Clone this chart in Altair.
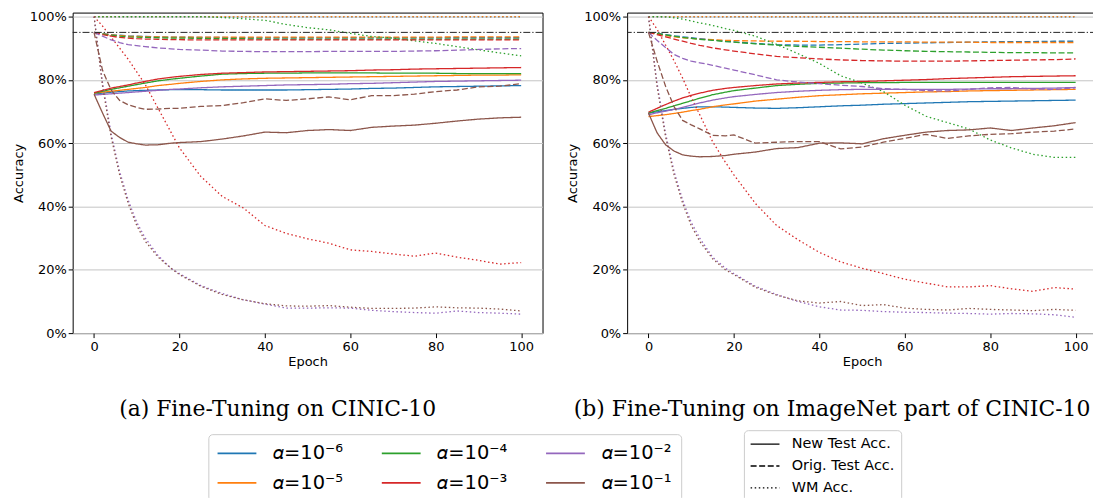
import altair as alt
import pandas as pd

# ---------------- data (accuracy in %) ----------------
EPOCHS = [0, 2, 4, 6, 8, 10, 12, 15, 18, 20, 25, 30, 35, 40, 45, 50, 55, 60, 65, 70, 75, 80, 85, 90, 95, 100]

ALPHA_LABELS = ["𝛼=10⁻⁶", "𝛼=10⁻⁵", "𝛼=10⁻⁴", "𝛼=10⁻³", "𝛼=10⁻²", "𝛼=10⁻¹"]
ALPHA_COLORS = ["#1f77b4", "#ff7f0e", "#2ca02c", "#d62728", "#9467bd", "#8c564b"]
METRICS = ["New Test Acc.", "Orig. Test Acc.", "WM Acc."]
METRIC_DASHES = [[1, 0], [6, 2.6], [1.5, 2.6]]
ORIG_ACC = 95.0
X_TICKS = [0, 20, 40, 60, 80, 100]
Y_TICKS = [0, 0.2, 0.4, 0.6, 0.8, 1.0]
CAPTIONS = ["(a) Fine-Tuning on CINIC-10", "(b) Fine-Tuning on ImageNet part of CINIC-10"]

# Panel (a): Fine-Tuning on CINIC-10
A_NEW_1E6 = [75.5, 75.8, 76.1, 76.3, 76.5, 76.6, 76.7, 76.8, 76.9, 76.9, 76.9, 76.8, 76.8, 76.8, 76.8, 76.9, 77.0, 77.1, 77.3, 77.4, 77.6, 77.8, 77.9, 78.0, 78.1, 78.2]
A_NEW_1E5 = [75.8, 76.1, 76.4, 76.7, 77.0, 77.3, 77.6, 78.2, 78.6, 78.9, 79.5, 80.0, 80.3, 80.5, 80.6, 80.7, 80.8, 80.9, 81.0, 81.1, 81.2, 81.3, 81.4, 81.5, 81.5, 81.6]
A_NEW_1E4 = [75.8, 76.4, 77.0, 77.5, 78.0, 78.5, 79.0, 79.7, 80.2, 80.5, 81.2, 81.8, 82.0, 82.1, 82.1, 82.2, 82.2, 82.2, 82.2, 82.1, 82.1, 82.1, 82.0, 82.0, 82.0, 82.0]
A_NEW_1E3 = [76.0, 76.7, 77.4, 77.9, 78.4, 79.0, 79.5, 80.3, 80.8, 81.1, 81.7, 82.1, 82.3, 82.5, 82.6, 82.7, 82.8, 82.9, 83.1, 83.2, 83.4, 83.5, 83.6, 83.7, 83.8, 83.9]
A_NEW_1E2 = [75.2, 75.4, 75.6, 75.8, 76.0, 76.2, 76.4, 76.7, 77.0, 77.1, 77.5, 77.8, 78.0, 78.2, 78.4, 78.5, 78.6, 78.8, 78.9, 79.1, 79.3, 79.5, 79.6, 79.7, 79.8, 79.9]
A_NEW_1E1 = [75.5, 69.5, 63.8, 61.8, 60.3, 59.8, 59.4, 59.5, 60.0, 60.2, 60.5, 61.3, 62.3, 63.5, 63.3, 64.0, 64.3, 64.0, 65.0, 65.4, 65.7, 66.3, 67.0, 67.6, 68.0, 68.2]

A_ORIG_1E6 = [95.0, 94.6, 94.3, 94.1, 93.9, 93.8, 93.7, 93.6, 93.5, 93.5, 93.4, 93.4, 93.3, 93.3, 93.3, 93.3, 93.3, 93.3, 93.3, 93.3, 93.3, 93.3, 93.3, 93.3, 93.3, 93.3]
A_ORIG_1E5 = [95.0, 94.5, 94.2, 94.0, 93.8, 93.7, 93.6, 93.6, 93.5, 93.5, 93.5, 93.5, 93.5, 93.5, 93.5, 93.5, 93.5, 93.5, 93.5, 93.5, 93.5, 93.5, 93.6, 93.6, 93.6, 93.6]
A_ORIG_1E4 = [95.0, 94.5, 94.1, 93.8, 93.6, 93.5, 93.4, 93.3, 93.2, 93.2, 93.1, 93.0, 93.0, 92.9, 92.9, 92.9, 92.9, 92.9, 92.9, 92.9, 92.9, 92.9, 92.9, 92.9, 92.9, 92.9]
A_ORIG_1E3 = [95.0, 94.3, 93.8, 93.4, 93.2, 93.0, 92.9, 92.8, 92.7, 92.7, 92.6, 92.6, 92.6, 92.6, 92.6, 92.6, 92.6, 92.6, 92.6, 92.6, 92.6, 92.6, 92.6, 92.6, 92.6, 92.6]
A_ORIG_1E2 = [95.0, 93.8, 92.6, 91.8, 91.1, 90.8, 90.5, 90.1, 89.8, 89.6, 89.4, 89.1, 89.0, 88.9, 88.9, 88.9, 89.0, 89.0, 89.0, 89.0, 89.1, 89.2, 89.4, 89.6, 89.8, 89.9]
A_ORIG_1E1 = [95.0, 83.0, 76.8, 73.5, 72.1, 71.3, 70.7, 70.8, 71.0, 71.0, 71.6, 71.9, 72.8, 74.0, 73.5, 74.0, 74.6, 73.7, 75.0, 75.0, 75.5, 76.3, 76.8, 77.8, 78.0, 78.8]

A_WM_1E6 = [99.9, 99.9, 99.9, 99.9, 99.9, 99.9, 99.9, 99.9, 99.9, 99.9, 99.9, 99.9, 99.9, 99.9, 99.9, 99.9, 99.9, 99.9, 99.9, 99.9, 99.9, 99.9, 99.9, 99.9, 99.9, 99.9]
A_WM_1E5 = [100.0, 100.0, 100.0, 100.0, 100.0, 100.0, 100.0, 100.0, 100.0, 100.0, 100.0, 100.0, 100.0, 100.0, 100.0, 100.0, 100.0, 100.0, 100.0, 100.0, 100.0, 100.0, 100.0, 100.0, 100.0, 100.0]
A_WM_1E4 = [100.0, 100.0, 100.0, 100.0, 100.0, 100.0, 100.0, 100.0, 100.0, 100.0, 100.0, 99.7, 99.3, 98.8, 97.5, 96.5, 95.8, 94.7, 93.7, 93.2, 92.3, 91.5, 90.5, 89.5, 88.5, 87.6]
A_WM_1E3 = [100.0, 97.0, 93.5, 90.0, 86.5, 82.5, 78.5, 71.0, 63.5, 58.5, 49.5, 43.2, 39.5, 34.0, 31.5, 29.8, 28.4, 26.3, 25.8, 25.0, 24.3, 25.3, 24.0, 23.0, 21.8, 22.3]
A_WM_1E2 = [100.0, 79.0, 63.0, 51.0, 42.0, 35.0, 30.0, 24.5, 20.5, 18.8, 15.0, 12.5, 10.5, 9.2, 7.9, 7.9, 8.0, 7.9, 7.2, 6.8, 6.5, 6.3, 7.0, 6.5, 6.3, 6.0]
A_WM_1E1 = [100.0, 78.0, 62.0, 50.0, 41.0, 34.0, 29.0, 24.0, 20.5, 18.5, 14.8, 12.2, 10.5, 9.3, 8.6, 8.5, 8.7, 8.2, 7.8, 7.8, 7.9, 8.3, 8.0, 7.9, 7.6, 7.0]

# Panel (b): Fine-Tuning on ImageNet part of CINIC-10
B_NEW_1E6 = [69.5, 69.9, 70.3, 70.7, 71.0, 71.3, 71.5, 71.5, 71.4, 71.3, 71.1, 71.0, 71.2, 71.5, 71.8, 72.0, 72.3, 72.5, 72.7, 72.9, 73.1, 73.2, 73.3, 73.4, 73.5, 73.6]
B_NEW_1E5 = [68.4, 68.7, 69.0, 69.4, 69.8, 70.3, 70.7, 71.5, 72.1, 72.4, 73.3, 73.9, 74.5, 75.0, 75.3, 75.6, 75.8, 76.0, 76.2, 76.3, 76.5, 76.6, 76.7, 76.8, 76.9, 77.0]
B_NEW_1E4 = [69.5, 70.3, 71.0, 71.8, 72.6, 73.4, 74.2, 75.3, 76.1, 76.6, 77.4, 78.2, 78.6, 78.9, 79.0, 79.1, 79.1, 79.2, 79.2, 79.2, 79.2, 79.2, 79.2, 79.2, 79.2, 79.2]
B_NEW_1E3 = [69.8, 71.0, 72.2, 73.3, 74.3, 75.1, 75.8, 76.7, 77.3, 77.6, 78.2, 78.7, 79.0, 79.2, 79.4, 79.5, 79.7, 79.9, 80.1, 80.4, 80.6, 80.8, 81.0, 81.1, 81.2, 81.3]
B_NEW_1E2 = [69.0, 69.6, 70.1, 70.7, 71.3, 72.0, 72.7, 73.6, 74.3, 74.7, 75.4, 76.0, 76.4, 76.7, 76.9, 77.0, 77.0, 77.0, 77.0, 77.0, 77.1, 77.2, 77.2, 77.3, 77.4, 77.6]
B_NEW_1E1 = [69.5, 63.3, 59.5, 57.5, 56.3, 55.9, 55.7, 55.8, 56.1, 56.5, 57.2, 58.3, 58.6, 60.0, 60.1, 59.8, 61.4, 62.5, 63.5, 64.0, 64.2, 64.8, 64.0, 64.8, 65.5, 66.5]

B_ORIG_1E6 = [95.0, 94.7, 94.3, 93.9, 93.6, 93.3, 93.0, 92.6, 92.2, 92.0, 91.5, 91.1, 91.0, 91.0, 91.1, 91.3, 91.5, 91.6, 91.7, 91.8, 91.9, 92.0, 92.1, 92.1, 92.2, 92.2]
B_ORIG_1E5 = [95.0, 94.5, 94.0, 93.6, 93.3, 93.1, 92.9, 92.7, 92.5, 92.4, 92.3, 92.2, 92.2, 92.1, 92.1, 92.0, 92.0, 92.0, 91.9, 91.9, 91.9, 91.8, 91.8, 91.8, 91.8, 91.8]
B_ORIG_1E4 = [95.0, 94.6, 94.2, 93.8, 93.4, 93.1, 92.8, 92.5, 92.1, 91.9, 91.4, 91.0, 90.6, 90.3, 90.0, 89.7, 89.4, 89.2, 89.0, 88.9, 88.8, 88.7, 88.6, 88.6, 88.5, 88.5]
B_ORIG_1E3 = [95.0, 94.3, 93.6, 92.9, 92.2, 91.5, 90.9, 90.1, 89.5, 89.1, 88.2, 87.4, 87.0, 86.6, 86.3, 86.1, 86.0, 85.9, 85.9, 85.9, 86.0, 86.1, 86.2, 86.3, 86.4, 86.6]
B_ORIG_1E2 = [95.0, 92.5, 90.2, 88.0, 86.8, 85.9, 85.4, 84.6, 83.7, 83.1, 81.6, 80.0, 79.3, 78.8, 78.3, 77.9, 77.2, 77.0, 76.6, 76.5, 77.0, 77.5, 77.6, 77.1, 77.0, 77.5]
B_ORIG_1E1 = [95.0, 86.0, 78.0, 71.5, 67.2, 65.8, 64.5, 62.5, 62.3, 62.6, 60.0, 60.3, 60.5, 60.5, 58.2, 58.8, 60.3, 61.5, 62.8, 61.5, 62.3, 62.8, 63.0, 63.5, 63.8, 64.5]

B_WM_1E6 = [99.9, 99.9, 99.9, 99.9, 99.9, 99.9, 99.9, 99.9, 99.9, 99.9, 99.9, 99.9, 99.9, 99.9, 99.9, 99.9, 99.9, 99.9, 99.9, 99.9, 99.9, 99.9, 99.9, 99.9, 99.9, 99.9]
B_WM_1E5 = [100.0, 100.0, 100.0, 100.0, 100.0, 100.0, 100.0, 100.0, 100.0, 100.0, 100.0, 100.0, 100.0, 100.0, 100.0, 100.0, 100.0, 100.0, 100.0, 100.0, 100.0, 100.0, 100.0, 100.0, 100.0, 100.0]
B_WM_1E4 = [100.0, 100.0, 99.9, 99.6, 99.2, 98.6, 98.0, 97.2, 96.2, 95.6, 93.8, 91.2, 88.3, 85.2, 81.3, 79.0, 76.3, 72.0, 68.5, 66.5, 64.5, 61.0, 58.5, 56.5, 55.5, 55.5]
B_WM_1E3 = [100.0, 96.0, 91.0, 86.0, 80.5, 74.5, 69.0, 60.5, 54.0, 50.0, 41.0, 34.0, 29.5, 25.5, 22.5, 20.5, 18.8, 17.0, 15.8, 14.6, 14.6, 15.0, 14.0, 13.2, 14.4, 13.9]
B_WM_1E2 = [100.0, 79.0, 63.0, 51.0, 42.0, 35.0, 30.0, 24.0, 20.5, 18.8, 14.8, 12.2, 10.0, 8.3, 7.3, 7.2, 6.8, 6.6, 6.5, 6.3, 6.2, 6.0, 6.2, 6.1, 5.8, 5.0]
B_WM_1E1 = [100.0, 78.0, 62.0, 50.0, 41.0, 34.0, 29.0, 23.5, 20.0, 18.5, 14.5, 12.0, 10.2, 9.5, 10.0, 8.7, 9.0, 7.9, 7.5, 7.3, 7.8, 7.5, 7.3, 7.1, 7.5, 7.2]

PANEL_A = [
    [A_NEW_1E6, A_ORIG_1E6, A_WM_1E6],
    [A_NEW_1E5, A_ORIG_1E5, A_WM_1E5],
    [A_NEW_1E4, A_ORIG_1E4, A_WM_1E4],
    [A_NEW_1E3, A_ORIG_1E3, A_WM_1E3],
    [A_NEW_1E2, A_ORIG_1E2, A_WM_1E2],
    [A_NEW_1E1, A_ORIG_1E1, A_WM_1E1],
]
PANEL_B = [
    [B_NEW_1E6, B_ORIG_1E6, B_WM_1E6],
    [B_NEW_1E5, B_ORIG_1E5, B_WM_1E5],
    [B_NEW_1E4, B_ORIG_1E4, B_WM_1E4],
    [B_NEW_1E3, B_ORIG_1E3, B_WM_1E3],
    [B_NEW_1E2, B_ORIG_1E2, B_WM_1E2],
    [B_NEW_1E1, B_ORIG_1E1, B_WM_1E1],
]


def build_frame(panel):
    rows = []
    for ai, per_metric in enumerate(panel):
        for mi, values in enumerate(per_metric):
            for e, v in zip(EPOCHS, values):
                rows.append({
                    "epoch": e,
                    "acc": v / 100.0,
                    "alpha": ALPHA_LABELS[ai],
                    "metric": METRICS[mi],
                    "series": f"{ai}-{mi}",
                })
    return pd.DataFrame(rows)


PAD_L, PAD_T = 11, 8.5
PLOT_LEFT = 71.7  # legends with orient "none" are placed from the first panel's plot origin
# horizontal line symbol starting at the slot's left edge, two slots long
LINE_SYMBOL = "M-1,0H3"

x_enc = alt.X(
    "epoch:Q",
    scale=alt.Scale(domain=[-5, 105], nice=False, zero=False),
    axis=alt.Axis(values=X_TICKS, title="Epoch", grid=False, labelPadding=3, titlePadding=2),
)
y_enc = alt.Y(
    "acc:Q",
    scale=alt.Scale(domain=[0, 1.0125], nice=False, zero=False),
    axis=alt.Axis(values=Y_TICKS, format=".0%", title="Accuracy", labelPadding=2, titlePadding=4),
)
color_enc = alt.Color(
    "alpha:N",
    scale=alt.Scale(domain=ALPHA_LABELS, range=ALPHA_COLORS),
    legend=alt.Legend(
        orient="none", legendX=208 - PLOT_LEFT, legendY=432 - PAD_T, columns=3, title=None,
        labelFont="DejaVu Sans", labelFontSize=19.5, labelColor="black", labelLimit=400,
        symbolType=LINE_SYMBOL, symbolSize=380.25, symbolStrokeWidth=1.7,
        labelOffset=35, columnPadding=33, rowPadding=9, padding=8,
        strokeColor="#cccccc", fillColor="white", cornerRadius=4,
    ),
)
dash_enc = alt.StrokeDash(
    "metric:N",
    scale=alt.Scale(domain=METRICS, range=METRIC_DASHES),
    legend=alt.Legend(
        orient="none", legendX=746 - PLOT_LEFT, legendY=428 - PAD_T, title=None,
        labelFont="DejaVu Sans", labelFontSize=14.5, labelColor="black", labelLimit=400,
        symbolType=LINE_SYMBOL, symbolSize=210.25, symbolStrokeWidth=1.3, symbolStrokeColor="black",
        labelOffset=26, rowPadding=7, padding=6,
        strokeColor="#cccccc", fillColor="white", cornerRadius=4,
    ),
)


def panel_chart(panel, caption):
    lines = alt.Chart(build_frame(panel)).mark_line(strokeWidth=1.3, clip=True).encode(
        x=x_enc, y=y_enc, color=color_enc, strokeDash=dash_enc, detail="series:N"
    )
    rule = alt.Chart(pd.DataFrame({"acc": [ORIG_ACC / 100.0]})).mark_rule(
        color="#222222", strokeWidth=1, strokeDash=[7, 2, 1.3, 2]
    ).encode(y=y_enc)
    return alt.layer(lines, rule).properties(
        width=472, height=322,
        title=alt.TitleParams(
            caption, orient="bottom", anchor="middle", frame="bounds", font="DejaVu Serif", fontSize=22,
            fontWeight="normal", color="black", offset=31, baseline="top",
        ),
    )


chart = alt.hconcat(panel_chart(PANEL_A, CAPTIONS[0]), panel_chart(PANEL_B, CAPTIONS[1]), spacing=22).properties(
    padding={"left": PAD_L, "top": PAD_T, "right": -5, "bottom": 0}
).configure_view(stroke="black", strokeWidth=1).configure_axis(
    labelFont="DejaVu Sans", labelFontSize=13, labelColor="black",
    titleFont="DejaVu Sans", titleFontSize=13, titleFontWeight="normal", titleColor="black",
    tickColor="black", tickSize=4.5, domain=False, gridColor="#c4c4c4", gridWidth=1,
)

chart.save("out.html", embed_options={"renderer": "svg", "actions": False})
